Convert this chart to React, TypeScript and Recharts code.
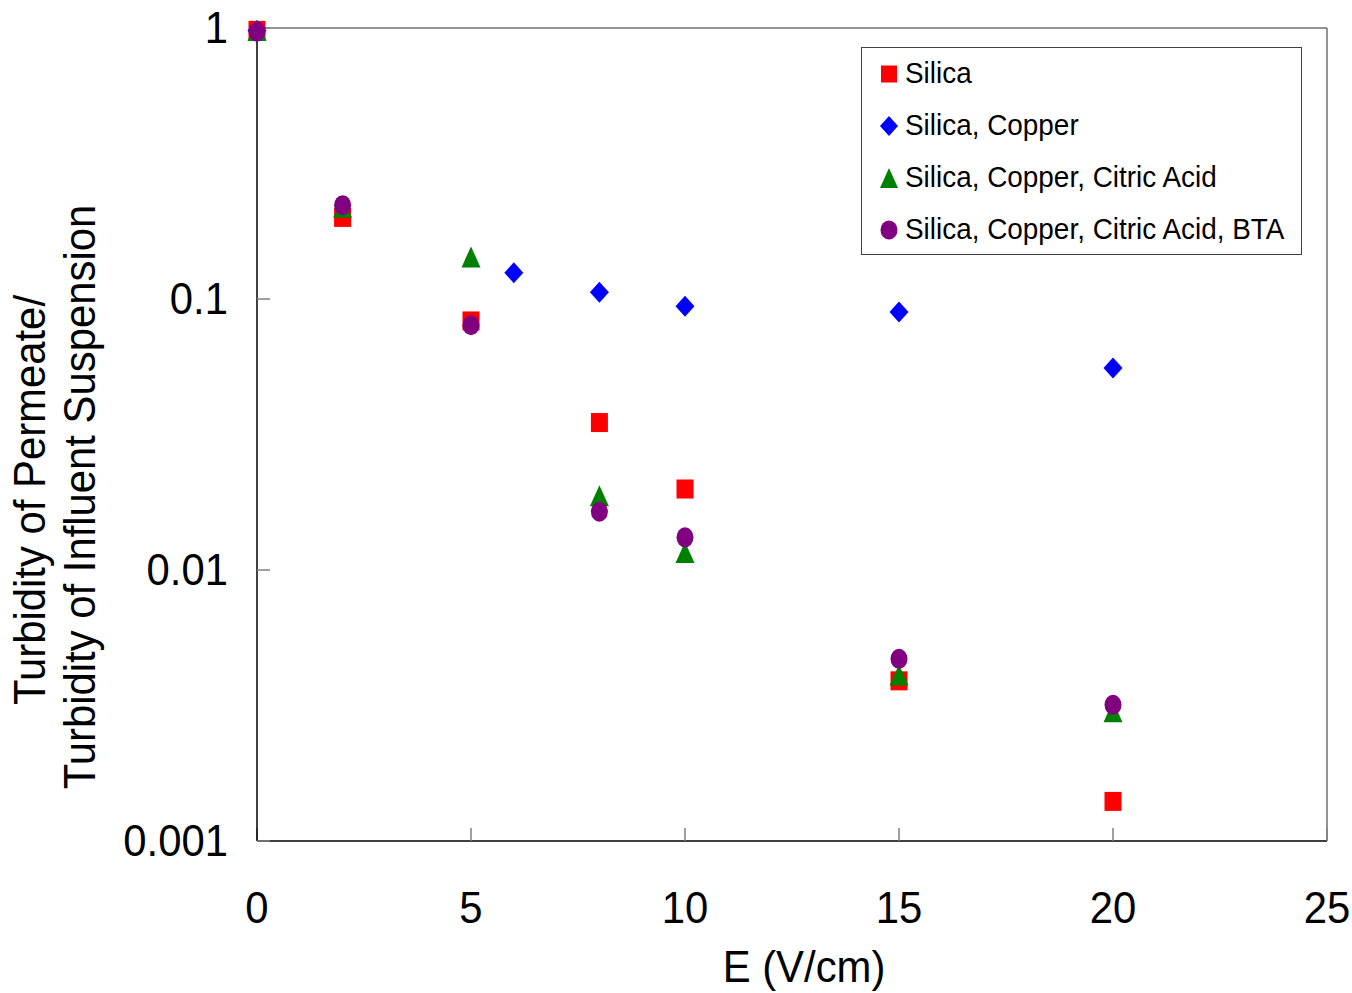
import React from "react";
import {
  ScatterChart,
  Scatter,
  XAxis,
  YAxis,
  Legend,
  ReferenceLine,
} from "recharts";

// ---- data ----
const seriesNames = [
  "Silica",
  "Silica, Copper",
  "Silica, Copper, Citric Acid",
  "Silica, Copper, Citric Acid, BTA",
];
const seriesColors = ["#FF0000", "#0000FF", "#008000", "#800080"];

const silicaE = [0, 2, 5, 8, 10, 15, 20];
const silicaRatio = [0.98, 0.2, 0.083, 0.035, 0.0199, 0.0039, 0.0014];

const copperE = [0, 6, 8, 10, 15, 20];
const copperRatio = [0.98, 0.125, 0.106, 0.094, 0.0895, 0.0556];

const citricE = [0, 2, 5, 8, 10, 15, 20];
const citricRatio = [0.98, 0.218, 0.143, 0.0188, 0.0116, 0.0041, 0.003];

const btaE = [0, 2, 5, 8, 10, 15, 20];
const btaRatio = [0.97, 0.222, 0.08, 0.0164, 0.0132, 0.0047, 0.00318];

const xTicks = [0, 5, 10, 15, 20, 25];
const yTicks = [0.001, 0.01, 0.1, 1];

const toPoints = (xs: number[], ys: number[]) =>
  xs.map((x, i) => ({ x, y: ys[i] }));

const silicaData = toPoints(silicaE, silicaRatio);
const copperData = toPoints(copperE, copperRatio);
const citricData = toPoints(citricE, citricRatio);
const btaData = toPoints(btaE, btaRatio);

const FONT = "'Liberation Sans', Arial, Helvetica, sans-serif";
const SX = 0.93;

// ---- marker shapes ----
const SquareShape = (p: any) => (
  <rect x={p.cx - 8.5} y={p.cy - 9.5} width={17} height={19} fill={seriesColors[0]} />
);
const DiamondShape = (p: any) => (
  <polygon
    points={`${p.cx},${p.cy - 10.5} ${p.cx + 9.5},${p.cy} ${p.cx},${p.cy + 10.5} ${p.cx - 9.5},${p.cy}`}
    fill={seriesColors[1]}
  />
);
const TriangleShape = (p: any) => (
  <polygon
    points={`${p.cx},${p.cy - 10.5} ${p.cx + 9.5},${p.cy + 10.5} ${p.cx - 9.5},${p.cy + 10.5}`}
    fill={seriesColors[2]}
  />
);
const CircleShape = (p: any) => (
  <ellipse cx={p.cx} cy={p.cy} rx={8.5} ry={10} fill={seriesColors[3]} />
);

const legendMarkers = [
  (cx: number, cy: number) => <rect x={cx - 8} y={cy - 8.5} width={16} height={17} fill={seriesColors[0]} />,
  (cx: number, cy: number) => (
    <polygon points={`${cx},${cy - 10} ${cx + 9},${cy} ${cx},${cy + 10} ${cx - 9},${cy}`} fill={seriesColors[1]} />
  ),
  (cx: number, cy: number) => (
    <polygon points={`${cx},${cy - 10} ${cx + 9},${cy + 10} ${cx - 9},${cy + 10}`} fill={seriesColors[2]} />
  ),
  (cx: number, cy: number) => <ellipse cx={cx} cy={cy} rx={8.5} ry={9.5} fill={seriesColors[3]} />,
];

// ---- ticks ----
const YTick = (p: any) => {
  const y = p.payload.coordinate;
  return (
    <text
      transform={`translate(228,${y + 15}) scale(${SX},1)`}
      textAnchor="end"
      fontFamily={FONT}
      fontSize={45}
      fill="#000"
    >
      {String(p.payload.value)}
    </text>
  );
};

const XTick = (p: any) => {
  const x = p.payload.coordinate;
  return (
    <text
      transform={`translate(${x},923) scale(${SX},1)`}
      textAnchor="middle"
      fontFamily={FONT}
      fontSize={45}
      fill="#000"
    >
      {String(p.payload.value)}
    </text>
  );
};

const YTitle = () => (
  <g>
    <text
      transform={`translate(45,500) rotate(-90) scale(${SX},1)`}
      textAnchor="middle"
      fontFamily={FONT}
      fontSize={45}
      fill="#000"
    >
      Turbidity of Permeate/
    </text>
    <text
      transform={`translate(95,497) rotate(-90) scale(${SX},1)`}
      textAnchor="middle"
      fontFamily={FONT}
      fontSize={45}
      fill="#000"
    >
      Turbidity of Influent Suspension
    </text>
  </g>
);

const XTitle = () => (
  <text
    transform={`translate(804,982) scale(${SX},1)`}
    textAnchor="middle"
    fontFamily={FONT}
    fontSize={45}
    fill="#000"
  >
    E (V/cm)
  </text>
);

const LegendBox = () => (
  <div
    style={{
      width: 441,
      height: 208,
      border: "1.5px solid #404040",
      background: "#fff",
      position: "relative",
      boxSizing: "border-box",
    }}
  >
    {seriesNames.map((name, i) => {
      const cy = 26 + i * 52;
      return (
        <div key={name} style={{ position: "absolute", left: 0, top: cy - 20, height: 40, width: 438 }}>
          <svg width={40} height={40} style={{ position: "absolute", left: 7, top: 0 }}>
            {legendMarkers[i](20, 20)}
          </svg>
          <span
            style={{
              position: "absolute",
              left: 43,
              top: 1,
              fontFamily: FONT,
              fontSize: 30,
              lineHeight: "36px",
              whiteSpace: "nowrap",
              transform: `scaleX(${SX})`,
              transformOrigin: "left center",
              color: "#000",
            }}
          >
            {name}
          </span>
        </div>
      );
    })}
  </div>
);

export default function App() {
  return (
    <div style={{ position: "absolute", left: 0, top: 0, width: 1352, height: 993, background: "#fff" }}>
      <ScatterChart
        width={1352}
        height={993}
        margin={{ top: 28, right: 25, left: 0, bottom: 0 }}
      >
        <XAxis
          type="number"
          dataKey="x"
          domain={[0, 25]}
          ticks={xTicks}
          interval={0}
          height={152}
          axisLine={{ stroke: "#000", strokeWidth: 1.5 }}
          tickLine={{ stroke: "#808080", strokeWidth: 1.5 }}
          tickSize={-13}
          tick={<XTick />}
          label={{ content: () => <XTitle /> }}
        />
        <YAxis
          type="number"
          dataKey="y"
          scale="log"
          domain={[0.001, 1]}
          ticks={yTicks}
          interval={0}
          width={257}
          axisLine={{ stroke: "#000", strokeWidth: 1.5 }}
          tickLine={{ stroke: "#808080", strokeWidth: 1.5 }}
          tickSize={-13}
          tick={<YTick />}
          label={{ content: () => <YTitle /> }}
        />
        <ReferenceLine y={1} stroke="#707070" strokeWidth={1.5} />
        <ReferenceLine x={25} stroke="#707070" strokeWidth={1.5} />
        <Legend
          layout="vertical"
          align="center"
          verticalAlign="middle"
          content={() => <LegendBox />}
          wrapperStyle={{ position: "absolute", left: 861, top: 47, width: 441, height: 208 }}
        />
        <Scatter name={seriesNames[0]} data={silicaData} shape={SquareShape} isAnimationActive={false} />
        <Scatter name={seriesNames[1]} data={copperData} shape={DiamondShape} isAnimationActive={false} />
        <Scatter name={seriesNames[2]} data={citricData} shape={TriangleShape} isAnimationActive={false} />
        <Scatter name={seriesNames[3]} data={btaData} shape={CircleShape} isAnimationActive={false} />
      </ScatterChart>
    </div>
  );
}
